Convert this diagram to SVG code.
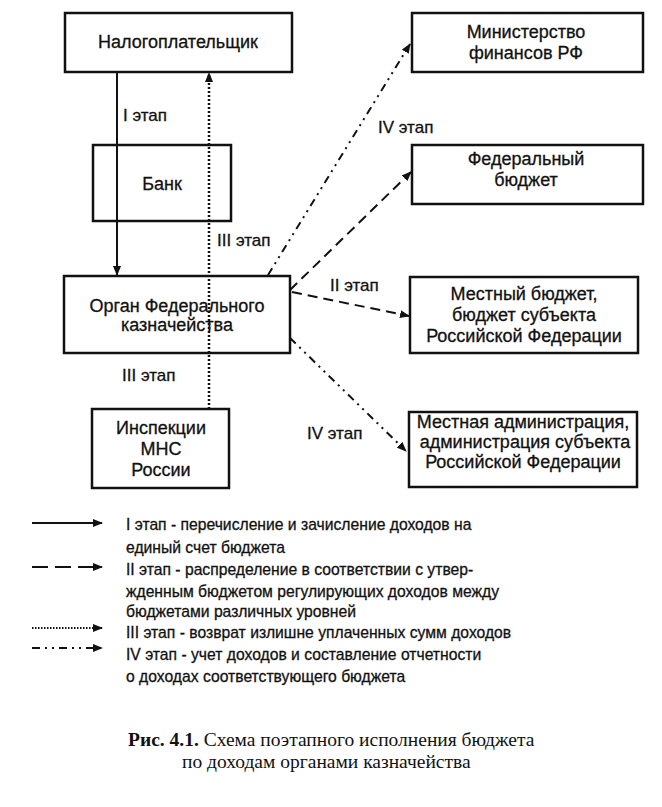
<svg xmlns="http://www.w3.org/2000/svg" width="662" height="807" viewBox="0 0 662 807">
<defs>
<marker id="ah" viewBox="0 0 10 8" refX="9" refY="4" markerWidth="10" markerHeight="8" markerUnits="userSpaceOnUse" orient="auto">
<path d="M0,0 L10,4 L0,8 Z" fill="#111"/>
</marker>
</defs>
<style>
.box{fill:none;stroke:#111;stroke-width:2.5}
.t{font-family:"Liberation Sans",Arial,sans-serif;font-size:18px;fill:#111;text-anchor:middle;stroke:#111;stroke-width:0.3}
.lb{font-family:"Liberation Sans",Arial,sans-serif;font-size:17px;fill:#111;stroke:#111;stroke-width:0.3}
.lg{font-family:"Liberation Sans",Arial,sans-serif;font-size:15.7px;fill:#111;stroke:#111;stroke-width:0.3}
.cap{font-family:"Liberation Serif","Times New Roman",serif;font-size:19.5px;fill:#111}
.c{fill:none;stroke:#111;stroke-width:2}
.s1{}
.s2{stroke-dasharray:10 6}
.s3{stroke-dasharray:2 2;stroke-width:2.5}
.s4{stroke-dasharray:8 5 2 5 2 5}
</style>
<rect width="662" height="807" fill="#fff"/>

<g id="n-taxpayer">
<rect class="box" x="65" y="13" width="227" height="59"/>
<text class="t" x="178" y="48">Налогоплательщик</text>
</g>
<g id="n-bank">
<rect class="box" x="93" y="145" width="138" height="76"/>
<text class="t" x="162" y="190">Банк</text>
</g>
<g id="n-treasury">
<rect class="box" x="64" y="276" width="226" height="77"/>
<text class="t" x="177" y="312">Орган Федерального</text>
<text class="t" x="177" y="331">казначейства</text>
</g>
<g id="n-inspection">
<rect class="box" x="92" y="409" width="137" height="79"/>
<text class="t" x="161" y="434">Инспекции</text>
<text class="t" x="161" y="455">МНС</text>
<text class="t" x="161" y="476">России</text>
</g>
<g id="n-minfin">
<rect class="box" x="412" y="13" width="231" height="59"/>
<text class="t" x="526" y="38">Министерство</text>
<text class="t" x="526" y="59">финансов РФ</text>
</g>
<g id="n-federal">
<rect class="box" x="412" y="145" width="231" height="59"/>
<text class="t" x="526" y="165">Федеральный</text>
<text class="t" x="526" y="186">бюджет</text>
</g>
<g id="n-local">
<rect class="box" x="410" y="277" width="228" height="76"/>
<text class="t" x="524" y="300">Местный бюджет,</text>
<text class="t" x="524" y="321">бюджет субъекта</text>
<text class="t" x="524" y="342">Российской Федерации</text>
</g>
<g id="n-admin">
<rect class="box" x="409" y="412" width="228" height="75"/>
<text class="t" x="523" y="428">Местная администрация,</text>
<text class="t" x="525" y="448">администрация субъекта</text>
<text class="t" x="523" y="468">Российской Федерации</text>
</g>

<g id="connectors">
<line class="c s1" x1="117" y1="72" x2="117" y2="275" marker-end="url(#ah)"/>
<line class="c s3" x1="209" y1="409" x2="209" y2="73" marker-end="url(#ah)"/>
<line class="c s4" x1="268" y1="275" x2="410" y2="44" marker-end="url(#ah)"/>
<line class="c s2" x1="290" y1="290" x2="411" y2="172" marker-end="url(#ah)"/>
<line class="c s2" x1="292" y1="292" x2="409" y2="316" marker-end="url(#ah)"/>
<line class="c s4" x1="290" y1="338" x2="406" y2="451" marker-end="url(#ah)"/>
</g>

<g id="labels">
<text class="lb" x="123" y="121">I этап</text>
<text class="lb" x="217" y="246">III этап</text>
<text class="lb" x="122" y="381">III этап</text>
<text class="lb" x="378" y="133">IV этап</text>
<text class="lb" x="330" y="291">II этап</text>
<text class="lb" x="307" y="439">IV этап</text>
</g>

<g id="legend">
<line class="c s1" x1="32" y1="523" x2="102" y2="523" marker-end="url(#ah)"/>
<line class="c" x1="32" y1="567" x2="102" y2="567" stroke-dasharray="16 7" marker-end="url(#ah)"/>
<line class="c" x1="32" y1="628" x2="102" y2="628" stroke-dasharray="1.5 1.5" stroke-width="2" marker-end="url(#ah)"/>
<line class="c s4" x1="32" y1="648" x2="102" y2="648" marker-end="url(#ah)"/>
<text class="lg" x="126" y="530">I этап - перечисление и зачисление доходов на</text>
<text class="lg" x="126" y="553">единый счет бюджета</text>
<text class="lg" x="126" y="575">II этап - распределение в соответствии с утвер-</text>
<text class="lg" x="126" y="597">жденным бюджетом регулирующих доходов между</text>
<text class="lg" x="126" y="617">бюджетами различных уровней</text>
<text class="lg" x="126" y="638">III этап - возврат излишне уплаченных сумм доходов</text>
<text class="lg" x="126" y="660">IV этап - учет доходов и составление отчетности</text>
<text class="lg" x="126" y="682">о доходах соответствующего бюджета</text>
</g>

<g id="caption">
<text class="cap" x="128" y="746"><tspan font-weight="bold">Рис. 4.1.</tspan> Схема поэтапного исполнения бюджета</text>
<text class="cap" x="182" y="768">по доходам органами казначейства</text>
</g>
</svg>
